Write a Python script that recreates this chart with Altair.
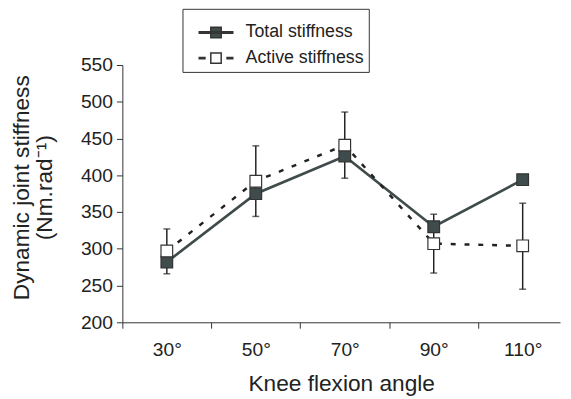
import altair as alt
import pandas as pd

angles = [30, 50, 70, 90, 110]
angle_labels = ["30°", "50°", "70°", "90°", "110°"]
series_names = ["Total stiffness", "Active stiffness"]
total = [282, 375, 426, 330, 394]
active = [297, 392, 441, 307, 304]
bar_low = [266, 344, 396, 267, 245]
bar_high = [327, 440, 486, 347, 362]
y_ticks = [200, 250, 300, 350, 400, 450, 500, 550]
x_boundaries = [20, 40, 60, 80, 100]

FONT = "Liberation Sans"
DARK = "#404b4b"
INK = "#222222"

df = pd.DataFrame({
    "angle": angles * 2,
    "value": total + active,
    "series": [series_names[0]] * len(angles) + [series_names[1]] * len(angles),
})
err = pd.DataFrame({"angle": angles, "lo": bar_low, "hi": bar_high})
caps = pd.DataFrame({"angle": angles * 2, "v": bar_low + bar_high})

label_expr = "''"
for a, lab in reversed(list(zip(angles, angle_labels))):
    label_expr = f"datum.value == {a} ? '{lab}' : ({label_expr})"
tick_test = " || ".join(f"datum.value == {b}" for b in x_boundaries)

x_scale = alt.Scale(domain=[20, 118.4], nice=False, zero=False)
y_scale = alt.Scale(domain=[200, 550], nice=False, zero=False)
fill_scale = alt.Scale(domain=series_names, range=[DARK, "white"])

total_path = "M-1,-0.05H1V0.05H-1Z M-0.31,-0.31H0.31V0.31H-0.31Z"
active_path = "M-1,-0.04H-0.66V0.04H-1Z M0.66,-0.04H1V0.04H0.66Z M-0.31,-0.31H0.31V0.31H-0.31Z"
shape_scale = alt.Scale(domain=series_names, range=[total_path, active_path])

x_axis = alt.Axis(
    title="Knee flexion angle",
    values=sorted(x_boundaries + angles),
    labelExpr=label_expr,
    tickOpacity={"condition": {"test": tick_test, "value": 1}, "value": 0},
    tickSize=6, labelPadding=13, titlePadding=14, grid=False,
)
y_axis = alt.Axis(
    title=["Dynamic joint stiffness", "(Nm.rad⁻¹)"],
    values=y_ticks, tickSize=6, labelPadding=4, titlePadding=24, grid=False,
    titleLineHeight=24, titleY=124,
)

x = alt.X("angle:Q", scale=x_scale, axis=x_axis)


def yenc(field):
    return alt.Y(field, scale=y_scale, axis=y_axis)


legend = alt.Legend(
    title=" ", titleFontSize=9, titlePadding=1,
    orient="none", legendX=61, legendY=-57,
    strokeColor="#333", fillColor="white", padding=5, symbolOffset=11,
    labelFont=FONT, labelFontSize=18, labelColor=INK, labelOffset=12,
    symbolSize=1156, clipHeight=18, rowPadding=8,
    symbolStrokeColor="#333", symbolStrokeWidth=1.5,
)

bars = alt.Chart(err).mark_rule(color=INK, strokeWidth=1.5).encode(
    x=x, y=yenc("lo:Q"), y2="hi:Q"
)
cap_marks = alt.Chart(caps).mark_tick(orient="horizontal", size=7, thickness=1.5, color=INK).encode(
    x=x, y=yenc("v:Q")
)
line_total = alt.Chart(df).transform_filter(
    alt.datum.series == series_names[0]
).mark_line(color=DARK, strokeWidth=2.7).encode(x=x, y=yenc("value:Q"))
line_active = alt.Chart(df).transform_filter(
    alt.datum.series == series_names[1]
).mark_line(color=INK, strokeWidth=2.5, strokeDash=[5, 9]).encode(x=x, y=yenc("value:Q"))

points = alt.Chart(df).mark_square(size=140, stroke="#333", strokeWidth=1.2, opacity=1).encode(
    x=x, y=yenc("value:Q"),
    fill=alt.Fill("series:N", scale=fill_scale, legend=legend),
)
legend_layer = alt.Chart(df).transform_filter("false").mark_point(
    filled=True, size=1156, stroke="#333", strokeWidth=1.5, opacity=1
).encode(
    x=x, y=yenc("value:Q"),
    fill=alt.Fill("series:N", scale=fill_scale, legend=legend),
    shape=alt.Shape("series:N", scale=shape_scale, legend=legend),
)

chart = alt.layer(bars, cap_marks, line_total, line_active, points, legend_layer).properties(
    width=444, height=261,
    autosize=alt.AutoSizeParams(type="none"),
    padding={"left": 116, "top": 55, "right": 3, "bottom": 76},
).configure_view(stroke=None).configure_axis(
    domainColor="#333", tickColor="#333", labelColor=INK, titleColor=INK,
    labelFont=FONT, titleFont=FONT, labelFontSize=19.5, titleFontSize=23,
    titleFontWeight="normal",
)

chart.save("out.html", embed_options={"renderer": "svg", "actions": False})
